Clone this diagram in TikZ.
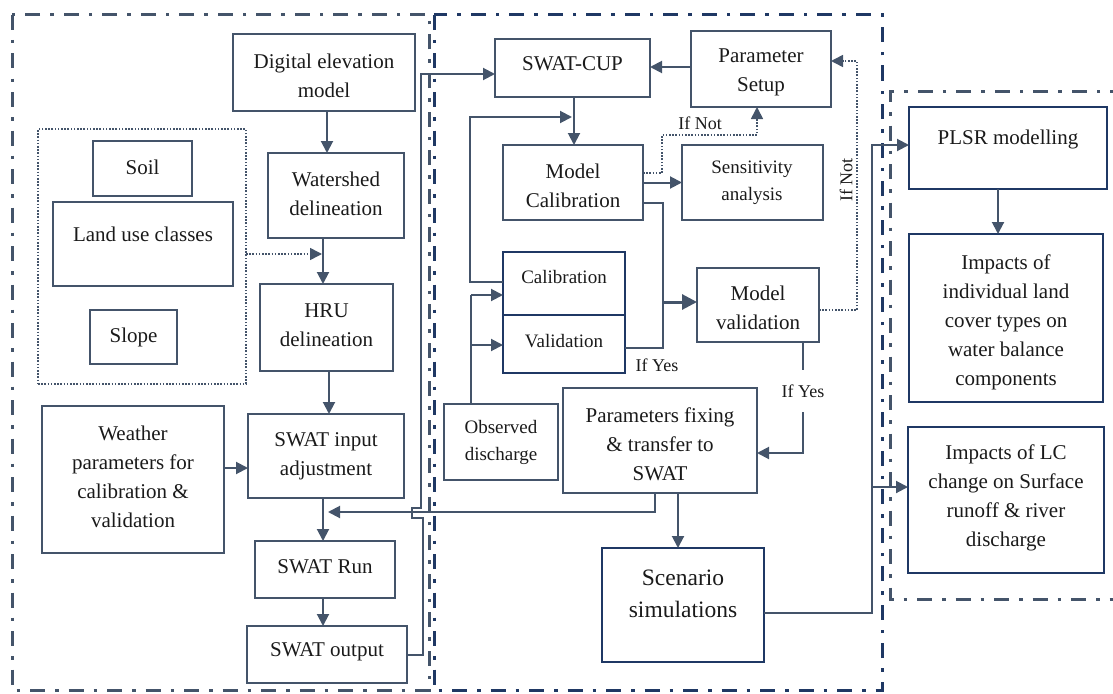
\documentclass[tikz,border=0pt]{standalone}
\usepackage{fontspec}
\setmainfont{Liberation Serif}
\usetikzlibrary{arrows.meta,calc}
\definecolor{slate}{HTML}{44546A}
\definecolor{navy}{HTML}{1F3864}
\definecolor{ink}{HTML}{1A1A1A}

% rectangle given by its corners: [style]{name}{x1}{y1}{x2}{y2}
\newcommand\mkbox[6][box]{%
  \node[#1, minimum width={(#5)-(#3)}, minimum height={(#6)-(#4)}] (#2)
    at ({((#3)+(#5))/2},{((#4)+(#6))/2}) {};}

\tikzset{
  box/.style={rectangle, draw=slate, line width=2pt, inner sep=0pt, outer sep=0pt},
  nbox/.style={box, draw=navy},
  grpbox/.style={box, line width=1.6pt, dash pattern=on 1.6pt off 1.6pt},
  txt/.style={align=center, text=ink, inner sep=0pt, font=\fontsize{21}{29}\selectfont},
  stxt/.style={txt, font=\fontsize{19}{27}\selectfont},
  btxt/.style={txt, font=\fontsize{23.5}{32}\selectfont},
  lbl/.style={text=ink, inner sep=0pt, font=\fontsize{18}{22}\selectfont},
  conn/.style={draw=slate, line width=2pt},
  arr/.style={conn, -{Triangle[length=12pt,width=12pt]}},
  dotarr/.style={draw=slate, line width=1.6pt, dash pattern=on 1.6pt off 1.6pt,
                 -{Triangle[length=12pt,width=12pt]}},
  frame/.style={line width=3pt, dash pattern=on 15pt off 10pt on 3.5pt off 10pt},
}

\begin{document}
\begin{tikzpicture}[x=1pt,y=-1pt]
\useasboundingbox (0,0) rectangle (1113,693);

% section frames
\draw[frame, slate] (12,15) rectangle (429,690);
\draw[frame, navy] (434,15) rectangle (882,690);
\draw[frame, slate] (1125,91) -- (890,91) -- (890,599) -- (1125,599);

% ---------------- SWAT model set-up ----------------
\mkbox{dem}{233}{34}{415}{111}
\mkbox[grpbox]{grp}{38}{129}{246}{384}
\mkbox{soil}{93}{141}{192}{196}
\mkbox{landuse}{53}{202}{233}{286}
\mkbox{slope}{90}{310}{177}{364}
\mkbox{ws}{268}{153}{404}{238}
\mkbox{hru}{260}{284}{393}{371}
\mkbox{weather}{42}{406}{224}{553}
\mkbox{swin}{248}{414}{404}{498}
\mkbox{swrun}{255}{541}{395}{598}
\mkbox{swout}{247}{626}{407}{683}

\node[txt] (dem-t) at (324,76) {Digital elevation\\model};
\node[txt] (soil-t) at (142.5,167) {Soil};
\node[txt] (landuse-t) at (143,234) {Land use classes};
\node[txt] (slope-t) at (133.5,337) {Slope};
\node[txt] (ws-t) at (336,194) {Watershed\\delineation};
\node[txt] (hru-t) at (326.5,325) {HRU\\delineation};
\node[txt] (weather-t) at (133,477) {Weather\\parameters for\\calibration \&\\validation};
\node[txt] (swin-t) at (326,456) {SWAT input\\adjustment};
\node[txt] (swrun-t) at (325,567) {SWAT Run};
\node[txt] (swout-t) at (327,652) {SWAT output};

% ---------------- calibration / validation ----------------
\mkbox{swcup}{495}{39}{650}{97}
\mkbox{pset}{691}{31}{831}{107}
\mkbox{mcal}{503}{145}{643}{220}
\mkbox{sens}{682}{145}{823}{220}
\mkbox[nbox]{cal}{503}{252}{625}{315}
\mkbox[nbox]{val}{503}{315}{625}{373}
\mkbox{obs}{444}{404}{558}{480}
\mkbox{mval}{697}{268}{819}{342}
\mkbox{pfix}{563}{388}{757}{493}
\mkbox[nbox, line width=2.5pt]{scen}{602}{548}{764}{662}

\node[txt] (swcup-t) at (572.5,64) {SWAT-CUP};
\node[txt] (pset-t) at (761,72) {Parameter\\Setup};
\node[txt] (mcal-t) at (573,186) {Model\\Calibration};
\node[stxt] (sens-t) at (752,183) {Sensitivity\\analysis};
\node[stxt] (cal-t) at (564,277) {Calibration};
\node[stxt] (val-t) at (564,341) {Validation};
\node[stxt] (obs-t) at (501,442) {Observed\\discharge};
\node[txt] (mval-t) at (758,308) {Model\\validation};
\node[txt] (pfix-t) at (660,444) {Parameters fixing\\\& transfer to\\SWAT};
\node[btxt] (scen-t) at (683,594) {Scenario\\simulations};

% ---------------- impact analysis ----------------
\mkbox[nbox]{plsr}{909}{107}{1107}{189}
\mkbox[nbox]{imp1}{909}{234}{1103}{402}
\mkbox[nbox]{imp2}{908}{427}{1104}{573}

\node[txt] (plsr-t) at (1008,139) {PLSR modelling};
\node[txt] (imp1-t) at (1006,322) {Impacts of\\individual land\\cover types on\\water balance\\components};
\node[txt] (imp2-t) at (1006,498) {Impacts of LC\\change on Surface\\runoff \& river\\discharge};

% ---------------- connectors ----------------
\coordinate (j1) at (322,254);
\coordinate (fb) at (328,512);

\draw[arr] ([xshift=3pt]dem.south) -- ([xshift=3pt]dem.south |- ws.north);
\draw[arr] (ws.south -| 323,0) -- (hru.north -| 323,0);
\draw[dotarr] (grp.east |- j1) -- (j1);
\draw[arr] (hru.south -| 329,0) -- (swin.north -| 329,0);
\draw[arr] (weather.east |- 0,468) -- (swin.west |- 0,468);
\draw[arr] (swin.south -| 323,0) -- (swrun.north -| 323,0);
\draw[arr] (swrun.south -| 323,0) -- (swout.north -| 323,0);

% fixed parameters handed back to SWAT
\draw[arr] (pfix.south -| 655,0) -- (655,512) -- (fb);

% SWAT output to SWAT-CUP, hopping over the return line
\draw[arr] (swout.east) -- (swout.east -| 423,0) -- (423,518) -- (412,518)
  -- (412,508) -- (421,508) -- (421,74) -- (swcup.west |- 0,74);

\draw[arr] (pset.west |- 0,67) -- (swcup.east |- 0,67);
\draw[arr] (swcup.south -| 574,0) -- (mcal.north -| 574,0);
\draw[arr] (cal.west |- 0,282) -- (470,282) -- (470,117) -- (572,117);
\draw[conn] (obs.north -| 471,0) -- (471,295);
\draw[arr] (471,295) -- (cal.west |- 0,295);
\draw[arr] (471,345) -- (val.west |- 0,345);

\draw[arr] (mcal.east) -- (sens.west);
\draw[dotarr] (mcal.east |- 0,173) -- (662,173) -- (662,135) -- (757,135) -- (pset.south -| 757,0);
\node[lbl] (ifnot1) at (700,123) {If Not};

\draw[conn] (mcal.east |- 0,203) -- (663,203) -- (663,348) -- (val.east |- 0,348);
\draw[conn, line width=3pt, -{Triangle[length=15pt,width=15pt]}] (663,302) -- (mval.west |- 0,302);
\node[lbl] (ifyes1) at (657,365) {If Yes};

\draw[dotarr] (mval.east |- 0,310) -- (857,310) -- (857,61) -- (pset.east |- 0,61);
\node[lbl, rotate=90] (ifnot2) at (846,180) {If Not};

\draw[arr] (mval.south -| 803,0) -- (803,453) -- (pfix.east |- 0,453);
\node[lbl, fill=white, minimum height=42pt, inner xsep=3pt] (ifyes2) at (803,391) {If Yes};

\draw[arr] (pfix.south -| 678,0) -- (scen.north -| 678,0);

\draw[arr] (scen.east |- 0,613) -- (872,613) -- (872,145) -- (plsr.west |- 0,145);
\draw[arr] (872,487) -- (imp2.west |- 0,487);
\draw[arr] (plsr.south -| 998,0) -- (imp1.north -| 998,0);

\end{tikzpicture}
\end{document}
